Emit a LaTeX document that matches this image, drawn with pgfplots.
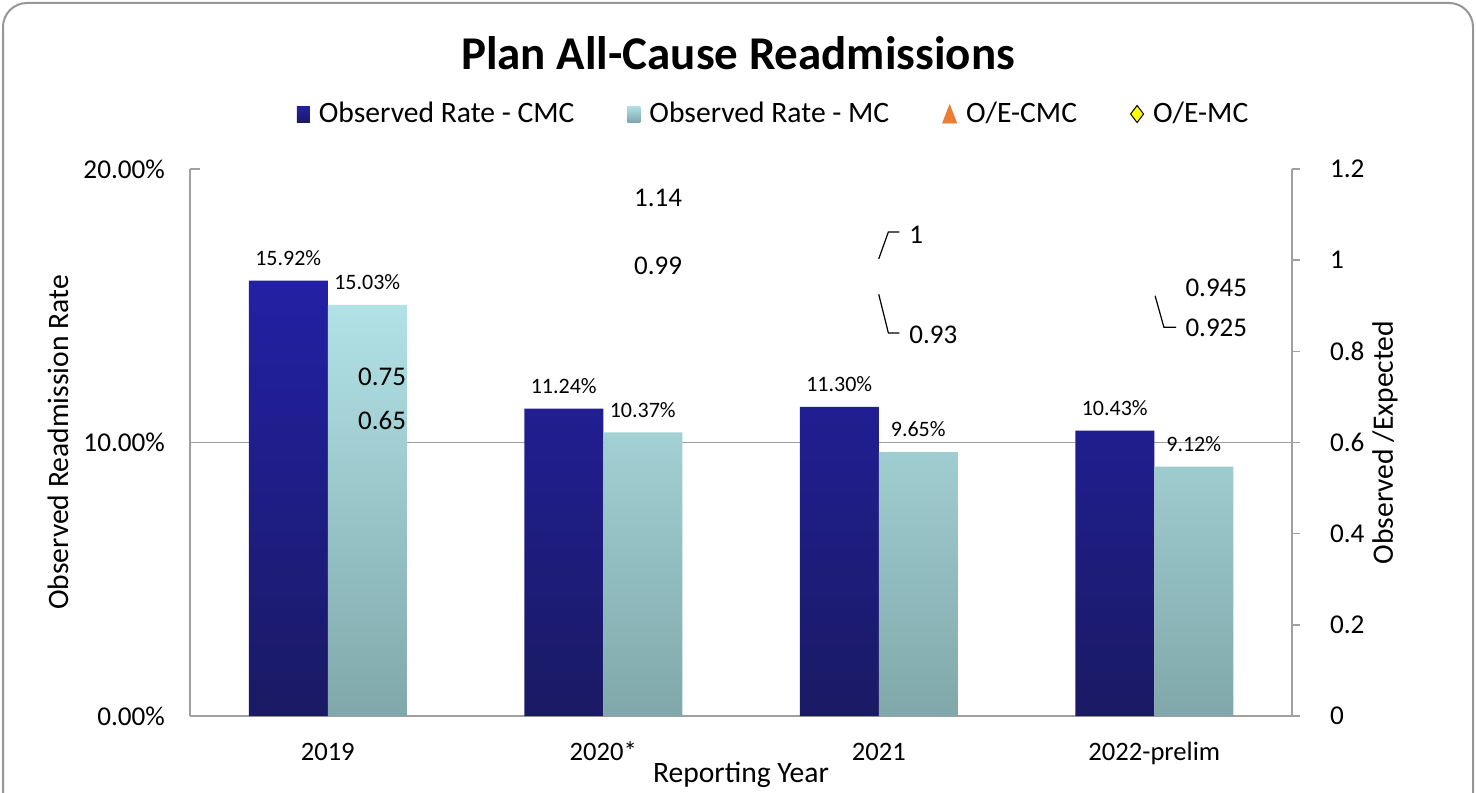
\documentclass[border=0pt]{standalone}
\usepackage{pgfplots}
\pgfplotsset{compat=1.18}
\usepackage{pgfplotstable}
\usepackage{fontspec}
\setmainfont{Carlito}
\definecolor{cmctop}{RGB}{35,32,165}
\definecolor{cmcbot}{RGB}{26,26,100}
\definecolor{mctop}{RGB}{178,226,230}
\definecolor{mcbot}{RGB}{128,168,170}
\definecolor{axgray}{RGB}{160,160,160}
\definecolor{borderg}{RGB}{150,150,150}
\definecolor{oeorange}{RGB}{237,125,49}
\definecolor{oeyellow}{RGB}{255,255,0}
\pgfplotsset{/pgf/number format/assume math mode=true}

\pgfplotstableread{
x cmc mc
0 15.92 15.03
1 11.24 10.37
2 11.30 9.65
3 10.43 9.12
}\ratetable
\pgfplotstableread{
x cmc mc
0 0.75 0.65
1 1.14 0.99
2 1 0.93
3 0.945 0.925
}\oetable

\begin{document}
\begin{tikzpicture}
\useasboundingbox (0,0) rectangle (738pt,396pt);
\draw[borderg, line width=1pt, rounded corners=12pt] (1.5pt,-20pt) rectangle (736.5pt,394.5pt);
\node[font=\bfseries\fontsize{23.5}{26}\selectfont] at (369pt,369.5pt) {Plan All-Cause Readmissions};

\begin{axis}[
  at={(95pt,38pt)}, anchor=south west,
  scale only axis, width=551pt, height=273.5pt,
  xmin=-0.5, xmax=3.5, ymin=0, ymax=20,
  axis x line*=bottom, axis y line*=left,
  axis line style={axgray, line width=0.8pt},
  xtick={0,1,2,3}, xticklabels={2019,2020*,2021,2022-prelim},
  x tick style={draw=none},
  xticklabel style={anchor=base, yshift=-17pt, font=\fontsize{13.3}{15}\selectfont},
  ytick={0,10,20},
  y tick style={axgray, line width=0.8pt},
  tick align=inside, major tick length=5pt,
  yticklabel={\pgfmathprintnumber[fixed,fixed zerofill,precision=2]{\tick}\%},
  yticklabel style={anchor=east, xshift=-9pt, font=\fontsize{13.6}{15}\selectfont},
  xlabel={Reporting Year},
  xlabel style={at={(axis description cs:0.5,0)}, anchor=center, yshift=-29.5pt, font=\fontsize{14.8}{17}\selectfont},
  ylabel={Observed Readmission Rate},
  ylabel style={at={(axis description cs:-0.1198,0.5)}, anchor=center, font=\fontsize{14.8}{17}\selectfont},
  ybar=0pt, bar width=39.5pt,
  nodes near coords={\pgfmathprintnumber[fixed,fixed zerofill,precision=2]{\pgfplotspointmeta}\%},
  nodes near coords style={font=\fontsize{11}{13}\selectfont, yshift=4pt, text=black},
  legend style={at={(axis description cs:0.5305,1.1005)}, anchor=center, draw=none, fill=none,
    legend columns=4, font=\fontsize{14.8}{17}\selectfont,
    /tikz/every odd column/.append style={column sep=2.5pt},
    /tikz/every even column/.append style={column sep=24.5pt}},
  legend cell align=left,
  clip=false,
]
\draw[axgray, line width=0.8pt] (axis cs:-0.5,10) -- (axis cs:3.5,10);
\addplot[draw=none, top color=cmctop, bottom color=cmcbot,
  legend image code/.code={\fill[cmctop] (0pt,-4pt) rectangle (6.5pt,4pt);}]
  table[x=x, y=cmc]{\ratetable};
\addlegendentry{Observed Rate - CMC}
\addplot[draw=none, top color=mctop, bottom color=mcbot,
  legend image code/.code={\fill[mctop!85!mcbot] (0pt,-4pt) rectangle (6.5pt,4pt);}]
  table[x=x, y=mc]{\ratetable};
\addlegendentry{Observed Rate - MC}
\addlegendimage{legend image code/.code={\fill[oeorange] (0pt,-4.5pt) -- (7pt,-4.5pt) -- (3.5pt,4.5pt) -- cycle;}}
\addlegendentry{O/E-CMC}
\addlegendimage{legend image code/.code={\filldraw[fill=oeyellow, draw=black, line width=0.5pt] (3.25pt,-4.25pt) -- (6.5pt,0pt) -- (3.25pt,4.25pt) -- (0pt,0pt) -- cycle;}}
\addlegendentry{O/E-MC}
\end{axis}

\begin{axis}[
  at={(95pt,38pt)}, anchor=south west,
  scale only axis, width=551pt, height=273.5pt,
  xmin=-0.5, xmax=3.5, ymin=0, ymax=1.2,
  axis y line*=right, axis x line=none,
  axis line style={axgray, line width=0.8pt},
  ytick={0,0.2,0.4,0.6,0.8,1,1.2},
  y tick style={axgray, line width=0.8pt},
  tick align=outside, major tick length=4pt,
  yticklabel style={anchor=west, xshift=11.5pt, font=\fontsize{13.6}{15}\selectfont},
  ylabel={Observed /Expected},
  ylabel style={at={(axis description cs:1.0844,0.5)}, anchor=center, rotate=0, font=\fontsize{14.8}{17}\selectfont},
  clip=false,
]
\addplot[draw=none, mark=none] table[x=x, y=cmc]{\oetable};
\addplot[draw=none, mark=none] table[x=x, y=mc]{\oetable};
\begin{scope}[every node/.style={font=\fontsize{13.5}{15}\selectfont}]
\node at (axis cs:0.197,0.744) {0.75};
\node at (axis cs:0.197,0.649) {0.65};
\node at (axis cs:1.199,1.136) {1.14};
\node at (axis cs:1.199,0.987) {0.99};
\node[anchor=west, inner sep=0pt] at (axis cs:2.110,1.055) {1};
\node[anchor=west, inner sep=0pt] at (axis cs:2.110,0.836) {0.93};
\node[anchor=west, inner sep=0pt] at (axis cs:3.112,0.939) {0.945};
\node[anchor=west, inner sep=0pt] at (axis cs:3.112,0.851) {0.925};
\end{scope}
\draw[black, line width=0.6pt] (axis cs:2,1.003) -- (axis cs:2.035,1.062) -- (axis cs:2.075,1.062);
\draw[black, line width=0.6pt] (axis cs:2,0.925) -- (axis cs:2.035,0.840) -- (axis cs:2.075,0.840);
\draw[black, line width=0.6pt] (axis cs:3.003,0.922) -- (axis cs:3.035,0.853) -- (axis cs:3.079,0.853);
\end{axis}
\end{tikzpicture}
\end{document}
